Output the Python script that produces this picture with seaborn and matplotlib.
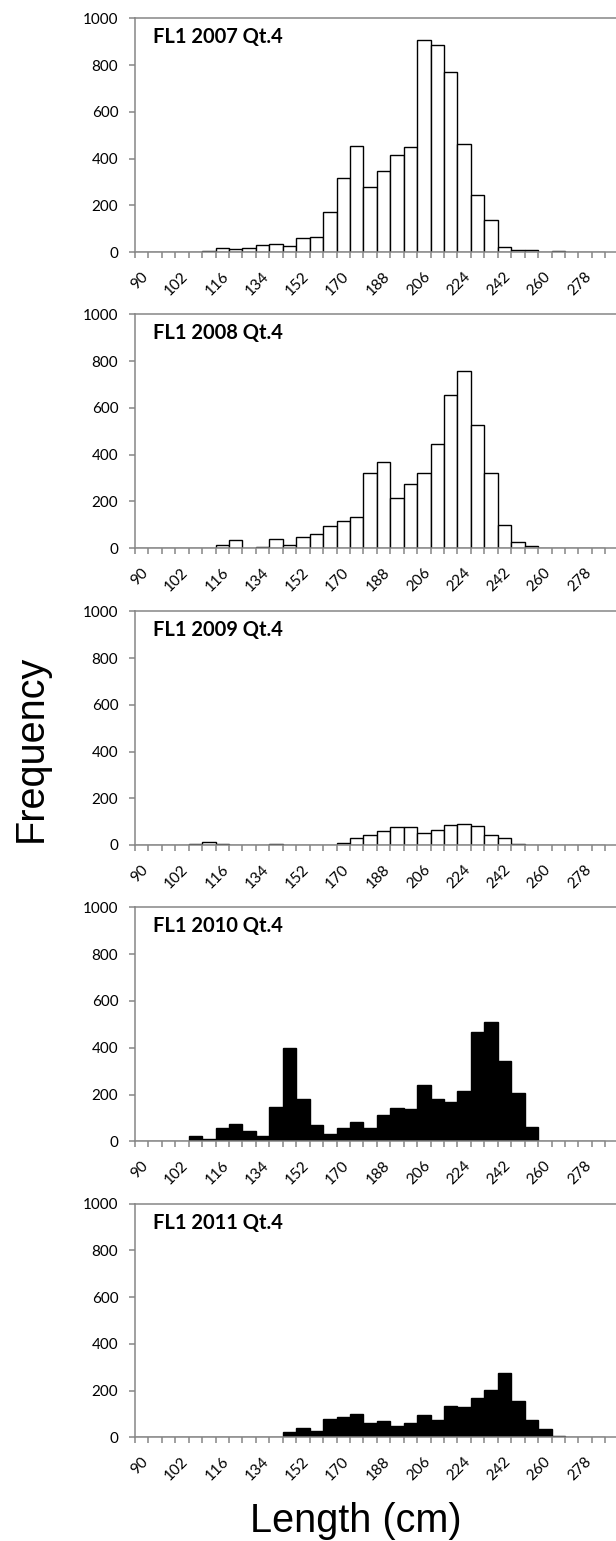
import matplotlib
matplotlib.use("Agg")
import matplotlib.pyplot as plt
from matplotlib.ticker import FixedLocator
from matplotlib.transforms import ScaledTranslation
import seaborn as sns
import pandas as pd

# Length classes (cm) shared by every panel
length_classes = [90, 94, 98, 102, 106, 110, 116, 122, 128, 134, 140, 146,
                  152, 158, 164, 170, 176, 182, 188, 194, 200, 206, 212, 218,
                  224, 230, 236, 242, 248, 254, 260, 266, 272, 278, 284]

# Labelled length classes on the x axis
labelled_classes = [90, 102, 116, 134, 152, 170, 188, 206, 224, 242, 260, 278]

# Frequencies per length class, fourth quarter of each year
freq_2007 = [0, 0, 0, 0, 0, 6, 19, 14, 19, 33, 37, 29, 61, 66, 174, 317, 454,
             280, 349, 416, 450, 909, 886, 770, 463, 246, 139, 24, 10, 10, 0,
             4, 0, 0, 0]
freq_2008 = [0, 0, 0, 0, 0, 0, 16, 34, 0, 7, 38, 16, 47, 63, 94, 118, 135,
             322, 368, 217, 276, 320, 447, 657, 756, 526, 320, 101, 28, 11, 0,
             0, 0, 0, 0]
freq_2009 = [0, 0, 2, 0, 6, 14, 6, 0, 0, 0, 5, 0, 0, 0, 0, 10, 31, 41, 58,
             76, 78, 53, 63, 84, 90, 83, 44, 28, 5, 0, 0, 0, 0, 0, 0]
freq_2010 = [0, 0, 0, 0, 23, 11, 56, 73, 44, 23, 145, 397, 179, 68, 33, 56,
             81, 58, 114, 144, 137, 242, 182, 168, 216, 467, 508, 345, 205,
             60, 0, 0, 0, 0, 0]
freq_2011 = [0, 0, 0, 0, 0, 3, 0, 0, 3, 3, 0, 24, 41, 27, 77, 87, 101, 61, 68,
             50, 63, 96, 73, 134, 130, 170, 203, 275, 154, 73, 37, 7, 0, 3, 0]

panel_titles = ["FL1 2007 Qt.4", "FL1 2008 Qt.4", "FL1 2009 Qt.4",
                "FL1 2010 Qt.4", "FL1 2011 Qt.4"]
panel_series = [freq_2007, freq_2008, freq_2009, freq_2010, freq_2011]
bar_fills = ["white", "white", "white", "black", "black"]
y_ticks = [0, 200, 400, 600, 800, 1000]

sns.set_theme(style="white")
plt.rcParams["font.family"] = ["Lato", "DejaVu Sans"]

W, H = 616, 1541
fig = plt.figure(figsize=(W / 100, H / 100), dpi=100)
fig.patch.set_facecolor("white")

axis_grey = "#868686"
left_px = 135
tops_px = [18.3, 314.3, 611.3, 907.3, 1203.7]
bottoms_px = [252.3, 548.3, 845.0, 1141.3, 1437.3]

categories = [str(v) for v in length_classes]
label_pos = [length_classes.index(v) for v in labelled_classes]

for title, series, fill, top, bottom in zip(panel_titles, panel_series,
                                            bar_fills, tops_px, bottoms_px):
    ax = fig.add_axes([left_px / W, 1 - bottom / H,
                       1 - left_px / W, (bottom - top) / H])
    df = pd.DataFrame({"Length": categories, "Frequency": series})
    sns.barplot(data=df, x="Length", y="Frequency", order=categories,
                color=fill, edgecolor="black", linewidth=1.0, width=1.0,
                saturation=1, errorbar=None, ax=ax)

    ax.set_xlim(-0.5, 35.3)
    ax.set_ylim(0, 1000)
    ax.set_xlabel("")
    ax.set_ylabel("")
    ax.set_facecolor("white")

    for side in ("top", "left", "bottom"):
        ax.spines[side].set_visible(True)
        ax.spines[side].set_color(axis_grey)
        ax.spines[side].set_linewidth(1.1)
        ax.spines[side].set_zorder(5)
    ax.spines["right"].set_visible(False)

    ax.set_yticks(y_ticks)
    ax.set_yticklabels([str(v) for v in y_ticks])
    ax.tick_params(axis="y", which="major", direction="out", length=4,
                   width=1.1, color=axis_grey, pad=8.0, labelsize=11,
                   labelcolor="black", left=True)

    ax.set_xticks(label_pos)
    ax.set_xticklabels([str(v) for v in labelled_classes])
    ax.xaxis.set_minor_locator(FixedLocator([i - 0.5 for i in range(36)]))
    ax.tick_params(axis="x", which="major", length=0, pad=16,
                   labelsize=11, labelcolor="black", bottom=True)
    ax.tick_params(axis="x", which="minor", direction="out", length=4,
                   width=1.1, color=axis_grey, bottom=True)
    shift = ScaledTranslation(4 / 100, 0, fig.dpi_scale_trans)
    for lab in ax.get_xticklabels():
        lab.set_rotation(45)
        lab.set_ha("right")
        lab.set_va("center")
        lab.set_rotation_mode("anchor")
        lab.set_transform(lab.get_transform() + shift)

    ax.text(18 / (W - left_px), 1 - 19 / (bottom - top), title,
            transform=ax.transAxes, ha="left", va="center",
            fontsize=14.5, fontweight="bold", color="black")

label_font = ["Liberation Sans", "DejaVu Sans"]
fig.text(42 / W, 1 - 748 / H, "Frequency", rotation=90,
         rotation_mode="anchor", ha="center", va="baseline",
         fontsize=28.5, family=label_font, color="black")
fig.text(356 / W, 1 - 1532 / H, "Length (cm)", ha="center", va="baseline",
         fontsize=28.5, family=label_font, color="black")

fig.savefig("out.png", dpi=100, facecolor="white")
